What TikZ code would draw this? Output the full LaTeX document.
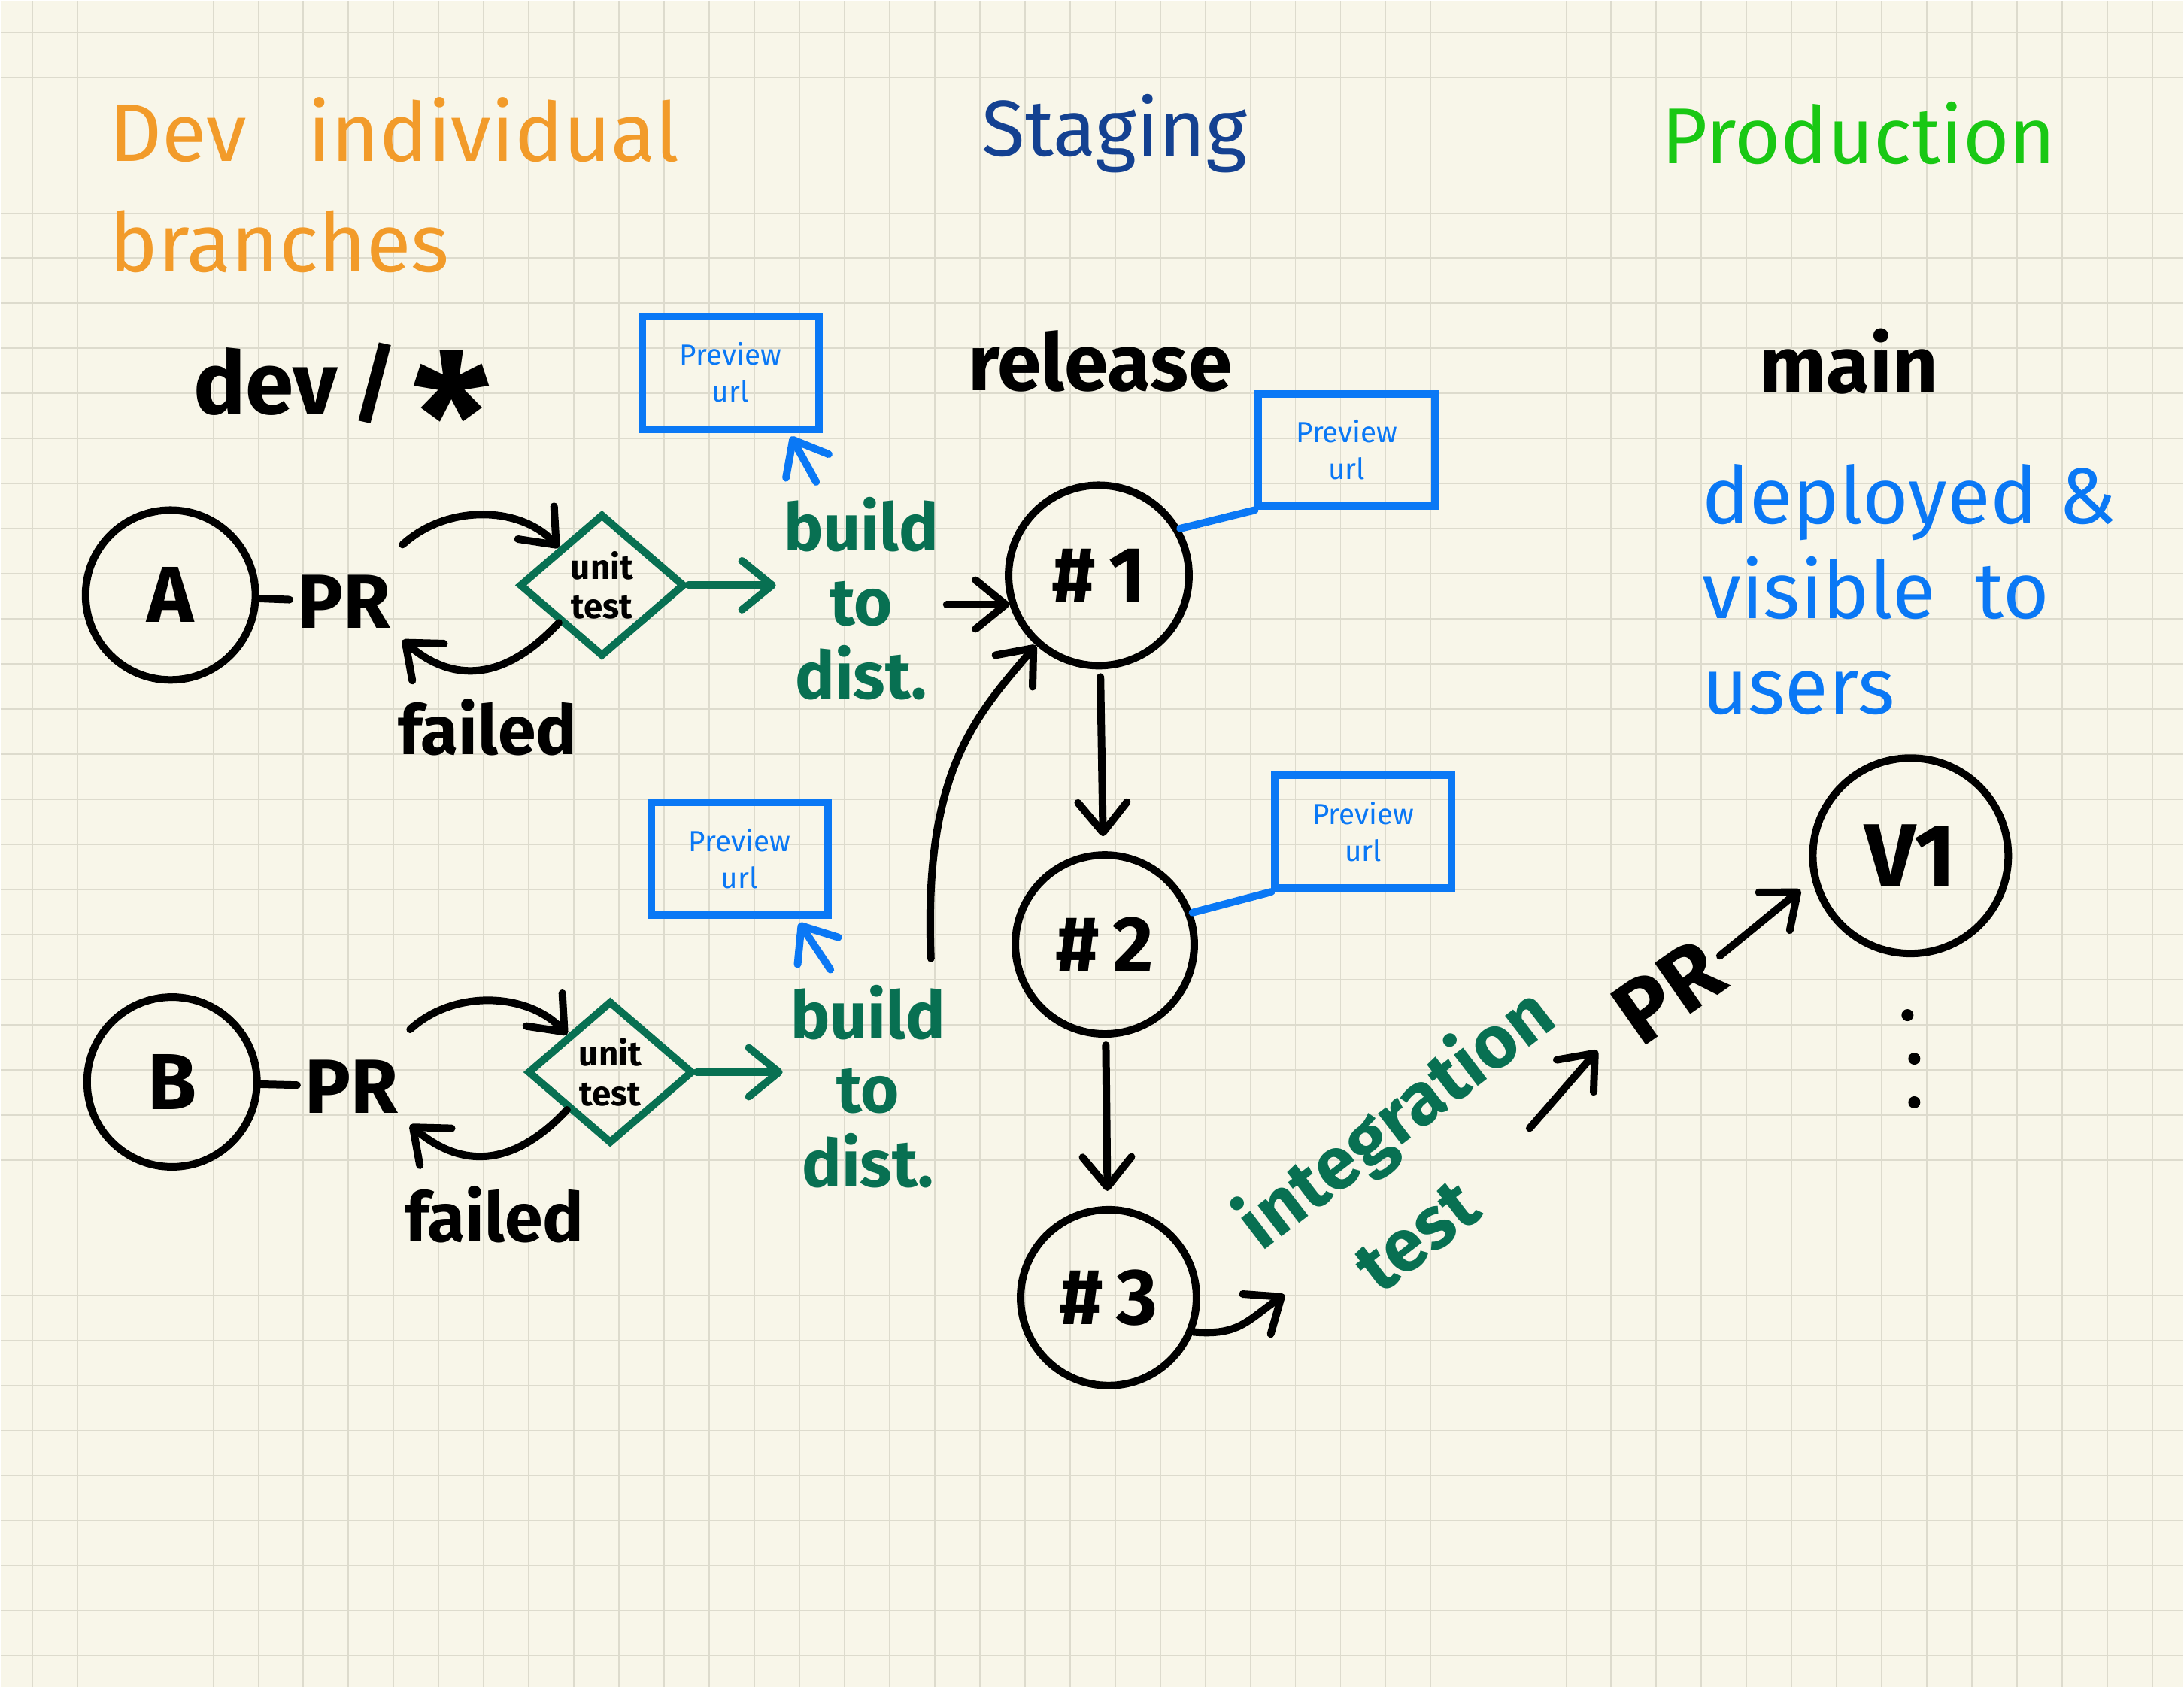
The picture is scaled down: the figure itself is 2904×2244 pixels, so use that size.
\documentclass[tikz,border=0pt]{standalone}
\usepackage{fontspec}
\setmainfont{Fira Sans}
\usetikzlibrary{arrows.meta, positioning, calc, shapes.geometric}

\definecolor{paper}{RGB}{248,246,233}
\definecolor{gridcol}{RGB}{221,219,205}
\definecolor{devorange}{RGB}{242,155,42}
\definecolor{stageblue}{RGB}{20,65,145}
\definecolor{prodgreen}{RGB}{25,200,20}
\definecolor{testgreen}{RGB}{8,112,82}
\definecolor{urlblue}{RGB}{10,120,245}

\begin{document}
\begin{tikzpicture}[x=0.1mm, y=-0.1mm,
    >={Straight Barb[length=4mm, width=6.5mm, round]},
    gridline/.style={draw=gridcol, line width=0.17mm},
    hand/.style={line width=1mm, line cap=round, line join=round},
    heading/.style={inner sep=0pt, font=\fontsize{30}{41}\selectfont},
    word/.style={inner sep=0pt, font=\fontsize{30}{30}\selectfont\bfseries},
    version/.style={draw, circle, line width=1mm, inner sep=0pt, font=\fontsize{30}{30}\selectfont\bfseries},
    testbox/.style={draw=testgreen, diamond, line width=1mm, minimum width=22mm, minimum height=19mm, inner sep=0pt, align=center, font=\fontsize{13}{15}\selectfont\bfseries},
    urlbox/.style={draw=urlblue, rectangle, line width=1mm, minimum width=23.5mm, minimum height=15mm, text=urlblue, align=center, font=\fontsize{11}{14}\selectfont},
    builds/.style={text=testgreen, align=center, inner sep=1mm, font=\fontsize{25}{28}\selectfont\bfseries},
    urlline/.style={hand, draw=urlblue},
    greenline/.style={hand, draw=testgreen},
    ellipsisdot/.style={circle, fill, inner sep=0pt, minimum size=1.6mm},
]
    % Paper with grid
    \fill[paper] (0,0) rectangle (2904,2244);
    \foreach \g in {0,...,47}
        \draw[gridline] (42.7+60*\g,0) -- (42.7+60*\g,2244);
    \foreach \g in {0,...,36}
        \draw[gridline] (0,42.7+60*\g) -- (2904,42.7+60*\g);
    \useasboundingbox (0,0) rectangle (2904,2244);

    % Column headings
    \node[heading, text=devorange, align=left, anchor=north west, font=\fontsize{31}{42}\selectfont] (devhead) at (144,128) {Dev\hspace{0.75em}individual\\branches};
    \node[heading, text=stageblue, anchor=base] (staging) at (1482,207) {Staging};
    \node[heading, text=prodgreen, anchor=base] (production) at (2472,217) {Production};

    % Branch names
    \node[word, anchor=base, font=\fontsize{33}{33}\selectfont\bfseries] (devbranch) at (454,550) {dev\,/\,\raisebox{-0.75em}{\scalebox{2}{*}}};
    \node[word, anchor=base] (releasebranch) at (1463,519) {release};
    \node[word, anchor=base] (mainbranch) at (2459,522) {main};
    \node[heading, text=urlblue, align=left, anchor=north west, font=\fontsize{30}{36}\selectfont] (deployed) at (2263,616) {deployed \&\\visible\enspace to\\users};

    % Dev branch A
    \node[version, minimum size=22.6mm] (A) at (226,791) {A};
    \node[word, inner sep=1mm, font=\fontsize{29}{29}\selectfont\bfseries] (prA) at (457,800) {PR};
    \node[testbox] (testA) at (800,778) {unit\\test};
    \node[word, font=\fontsize{26}{26}\selectfont\bfseries] (failedA) at (648,967) {failed};
    \node[builds] (buildA) at (1145,796) {build\\to\\dist.};
    \node[urlbox] (urlA) at (971,495) {Preview\\url};

    \draw[hand] (A) -- (prA);
    \draw[hand, ->] ($(prA.north east)+(5,-30)$) .. controls +(60,-55) and +(-50,-55) .. (testA.north west);
    \draw[hand, ->] (testA.south west) .. controls +(-70,75) and +(70,60) .. ($(prA.south east)+(5,5)$);
    \draw[greenline, ->] (testA.east) -- (testA.east -| buildA.west);
    \draw[urlline, ->] ($(buildA.north)+(-60,-10)$) -- ($(urlA.south east)+(-42,5)$);

    % Dev branch B
    \node[version, minimum size=22.6mm] (B) at (228,1439) {B};
    \node[word, inner sep=1mm, font=\fontsize{29}{29}\selectfont\bfseries] (prB) at (467,1445) {PR};
    \node[testbox] (testB) at (811,1426) {unit\\test};
    \node[word, font=\fontsize{26}{26}\selectfont\bfseries] (failedB) at (657,1615) {failed};
    \node[builds] (buildB) at (1154,1445) {build\\to\\dist.};
    \node[urlbox] (urlB) at (983,1142) {Preview\\url};

    \draw[hand] (B) -- (prB);
    \draw[hand, ->] ($(prB.north east)+(5,-30)$) .. controls +(60,-55) and +(-50,-55) .. (testB.north west);
    \draw[hand, ->] (testB.south west) .. controls +(-70,75) and +(70,60) .. ($(prB.south east)+(5,5)$);
    \draw[greenline, ->] (testB.east) -- (testB.east -| buildB.west);
    \draw[urlline, ->] ($(buildB.north)+(-50,-10)$) -- ($(urlB.south east)+(-43,5)$);

    % Release commits
    \node[version, minimum size=24mm] (r1) at (1461,765) {\#\,1};
    \node[version, minimum size=23.8mm] (r2) at (1469,1256) {\#\,2};
    \node[version, minimum size=23.4mm] (r3) at (1474,1726) {\#\,3};
    \node[urlbox] (urlR1) at (1791,598) {Preview\\url};
    \node[urlbox] (urlR2) at (1813,1106) {Preview\\url};

    \draw[hand, ->] (buildA.east |- r1.198) -- (r1.198);
    \draw[hand, ->] ($(buildB.north east)+(-30,-25)$) .. controls +(-10,-250) and +(-80,94) .. (r1.228);
    \draw[urlline] (r1.30) -- (urlR1.south west);
    \draw[hand, ->, shorten <=1mm, shorten >=2mm] (r1) -- (r2);
    \draw[urlline] (r2.20) -- (urlR2.south west);
    \draw[hand, ->, shorten <=1mm, shorten >=2mm] (r2) -- (r3);

    % Integration test
    \coordinate (intarrow) at (1708,1722);
    \draw[hand, ->] (r3.-22) .. controls +(60,5) and +(-50,35) .. (intarrow);
    \node[builds, rotate=37.5, inner sep=0pt, font=\fontsize{28}{28}\selectfont\bfseries] (integ) at (1858,1491) {integration};
    \node[builds, rotate=37.5, inner sep=0pt, font=\fontsize{28}{28}\selectfont\bfseries] (inttest) at (1885,1645) {test};

    % Production
    \node[word, rotate=35, inner sep=1mm, font=\fontsize{34}{34}\selectfont\bfseries] (prM) at (2219,1319) {PR};
    \node[version, minimum size=26mm, font=\fontsize{34}{34}\selectfont\bfseries] (v1) at (2541,1138) {V1};
    \draw[hand, ->, shorten <=12mm, shorten >=4mm] (inttest.east) -- (prM.west);
    \draw[hand, ->, shorten >=2mm] (prM.east) -- (v1.194);
    \foreach \k/\dx/\dy in {1/2537/1350, 2/2546/1408, 3/2546/1466}
        \node[ellipsisdot] (dot\k) at (\dx,\dy) {};
\end{tikzpicture}
\end{document}
